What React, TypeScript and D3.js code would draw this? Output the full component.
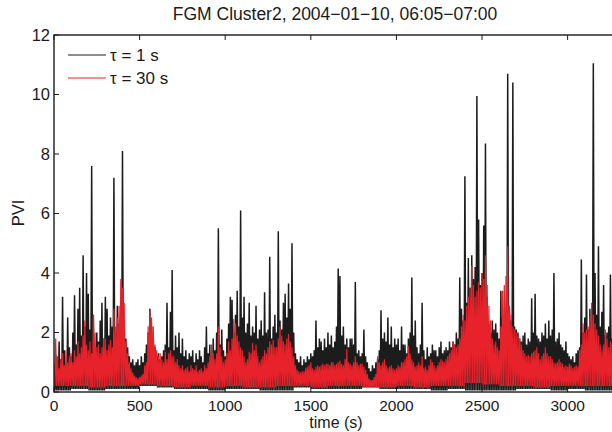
import React from "react";
import * as d3 from "d3";

const TITLE = "FGM Cluster2, 2004\u221201\u221210, 06:05\u221207:00";
const X_LABEL = "time (s)";
const Y_LABEL = "PVI";
const LEGEND = ["\u03c4 = 1 s", "\u03c4 = 30 s"];
const X_TICKS = [0, 500, 1000, 1500, 2000, 2500, 3000];
const Y_TICKS = [0, 2, 4, 6, 8, 10, 12];
const BIN_SECONDS = 10;
const LOW_SECONDS = 100;

// tau = 1 s : peak value in each 10 s bin (t = 0, 10, ..., 3290)
const blackPeak = [
  0.9, 1.25, 0.8, 1.7, 1.1, 3.2, 1.4, 1.0, 2.5, 1.5,
  1.2, 2.0, 3.25, 1.6, 2.8, 3.5, 1.9, 4.6, 2.2, 4.0,
  3.3, 2.1, 7.6, 2.6, 1.5, 2.0, 1.7, 2.4, 3.0, 1.8,
  3.2, 2.8, 1.9, 2.5, 2.2, 7.2, 2.0, 2.9, 2.3, 2.6,
  8.1, 2.4, 1.8, 1.5, 1.2, 1.0, 1.1, 0.9, 1.0, 1.1,
  0.9, 1.2, 1.0, 1.3, 1.6, 2.0, 2.8, 2.2, 1.8, 1.5,
  1.2, 1.3, 1.1, 1.2, 1.4, 1.6, 3.0, 1.5, 2.7, 4.1,
  1.4, 1.9, 1.5, 2.0, 1.3, 1.8, 1.2, 1.4, 1.1, 1.3,
  1.2, 1.4, 1.0, 1.3, 1.1, 1.4, 1.2, 1.0, 1.5, 2.2,
  1.3, 1.6, 1.2, 1.8, 1.4, 2.0, 5.5, 1.6, 2.1, 1.4,
  1.2, 1.8, 2.3, 3.2, 3.1, 2.0, 2.6, 3.4, 2.2, 6.1,
  2.5, 3.2, 2.0, 2.3, 3.0, 1.9, 2.2, 2.0, 2.9, 1.8,
  2.1, 2.4, 1.9, 3.35, 2.0, 2.1, 4.55, 1.8, 2.2, 2.6,
  2.0, 5.4, 2.4, 2.1, 3.0, 3.3, 2.5, 3.65, 2.8, 5.0,
  2.0, 1.3, 1.1, 1.0, 1.2, 0.9, 1.1, 1.0, 1.2, 1.1,
  1.3, 1.2, 1.4, 2.4, 1.5, 1.8, 1.7, 1.4, 1.8, 1.5,
  2.0, 1.6, 1.9, 1.5, 1.7, 2.2, 4.15, 3.9, 1.9, 2.2,
  1.6, 1.8, 1.5, 1.8, 1.8, 1.6, 3.7, 1.3, 1.4, 1.2,
  1.3, 2.1, 1.2, 1.0, 0.8, 0.7, 0.9, 0.8, 1.0, 1.1,
  1.4, 2.75, 1.8, 2.0, 1.7, 2.5, 1.6, 2.2, 1.5, 1.8,
  1.6, 1.8, 1.4, 2.2, 1.6, 1.6, 1.3, 1.8, 2.0, 3.85,
  1.9, 2.4, 1.5, 1.3, 1.6, 3.0, 1.4, 1.1, 1.5, 1.2,
  1.3, 1.6, 1.4, 1.4, 1.2, 1.5, 1.7, 1.3, 1.4, 1.5,
  1.4, 1.7, 1.5, 1.7, 1.6, 2.0, 1.8, 3.85, 2.8, 2.4,
  7.25, 3.0, 4.5, 3.5, 4.6, 3.8, 4.2, 9.95, 5.8, 3.6,
  4.0, 5.6, 8.35, 3.2, 2.3, 2.0, 2.4, 2.1, 2.3, 2.0,
  1.8, 3.4, 2.5, 2.2, 2.6, 10.7, 2.8, 2.4, 10.4, 2.2,
  2.1, 2.0, 1.8, 1.7, 1.9, 2.0, 1.6, 1.8, 1.7, 3.15,
  2.0, 3.3, 1.9, 1.8, 1.7, 2.0, 1.9, 2.3, 1.8, 2.4,
  1.9, 2.1, 4.0, 1.7, 1.8, 2.0, 1.6, 1.5, 1.4, 1.7,
  1.3, 1.2, 1.1, 1.2, 1.0, 1.3, 1.4, 1.5, 4.45, 2.0,
  2.5, 3.95, 2.1, 2.8, 2.4, 11.05, 4.0, 2.6, 4.9, 2.2,
  2.7, 3.6, 1.9, 2.0, 2.2, 3.95, 1.8, 1.5, 1.6, 1.4,
];

// tau = 1 s : trough level in each 100 s block
const blackLow = [
  0.05, 0.1, 0.05, 0.1, 0.1, 0.2, 0.15, 0.1, 0.1, 0.05, 0.1,
  0.1, 0.05, 0.05, 0.15, 0.1, 0.1, 0.1, 0.15, 0.1, 0.1, 0.1,
  0.05, 0.1, 0.05, 0.05, 0.05, 0.1, 0.1, 0.05, 0.1, 0.05, 0.05,
];

// tau = 30 s : peak value in each 10 s bin
const redPeak = [
  0.9, 1.8, 1.2, 0.8, 1.1, 1.3, 0.9, 1.4, 1.0, 1.2,
  1.3, 1.0, 1.4, 1.2, 1.7, 1.3, 1.5, 1.9, 2.4, 1.6,
  1.4, 1.7, 1.3, 2.6, 2.0, 1.5, 1.6, 1.3, 1.5, 1.8,
  1.8, 1.4, 1.6, 1.75, 1.5, 2.8, 2.2, 2.5, 2.9, 3.8,
  3.5, 3.0, 1.7, 1.3, 1.0, 0.8, 0.65, 0.55, 0.5, 0.45,
  0.5, 0.55, 0.6, 0.9, 1.0, 2.2, 2.75, 2.5, 2.2, 1.6,
  1.4, 1.2, 1.3, 1.1, 1.0, 1.35, 1.1, 1.3, 1.4, 1.2,
  1.2, 1.0, 1.1, 0.9, 0.8, 0.9, 0.75, 0.8, 0.85, 0.7,
  0.9, 0.8, 0.75, 0.9, 0.7, 0.75, 0.8, 0.7, 0.9, 0.8,
  1.0, 1.2, 1.6, 1.3, 1.1, 1.3, 2.2, 1.5, 1.2, 1.0,
  1.1, 1.3, 1.7, 1.4, 1.8, 2.45, 2.3, 1.9, 1.7, 1.5,
  1.4, 1.2, 1.0, 1.1, 1.35, 1.3, 1.65, 1.4, 1.6, 1.2,
  1.0, 1.1, 1.2, 1.4, 1.3, 1.5, 1.7, 1.6, 1.75, 1.5,
  1.5, 1.8, 2.2, 1.9, 1.7, 1.6, 1.8, 1.95, 1.7, 1.5,
  1.2, 0.9, 0.75, 0.7, 0.65, 0.7, 0.7, 0.8, 0.85, 0.9,
  1.0, 0.8, 0.75, 0.85, 0.9, 0.85, 0.9, 0.95, 0.9, 0.95,
  0.95, 0.9, 1.0, 1.0, 0.9, 0.95, 1.0, 1.05, 0.95, 0.9,
  1.1, 1.45, 1.0, 0.95, 0.9, 1.0, 1.2, 1.0, 0.9, 0.95,
  0.95, 0.85, 0.75, 0.6, 0.45, 0.4, 0.4, 0.5, 0.6, 1.2,
  1.0, 0.9, 1.0, 1.1, 0.9, 0.8, 0.85, 0.9, 0.8, 0.75,
  0.8, 0.9, 0.85, 1.0, 1.0, 1.1, 1.2, 1.55, 1.3, 1.1,
  1.0, 0.85, 0.9, 1.0, 0.9, 1.2, 0.8, 0.85, 0.75, 0.9,
  1.1, 1.0, 0.9, 0.8, 0.9, 1.0, 1.1, 1.05, 1.0, 1.1,
  1.2, 1.3, 1.4, 1.7, 1.6, 1.5, 1.6, 1.8, 2.2, 2.6,
  2.4, 2.9, 3.2, 3.5, 4.25, 3.6, 3.2, 3.4, 3.7, 3.5,
  4.0, 3.8, 4.6, 3.6, 2.9, 2.4, 1.8, 1.6, 1.7, 1.5,
  1.4, 2.2, 3.4, 3.6, 3.9, 4.9, 2.9, 2.6, 2.2, 2.1,
  2.0, 1.9, 1.8, 1.6, 1.4, 1.3, 1.2, 1.25, 1.2, 1.3,
  1.35, 1.4, 1.5, 1.3, 1.1, 1.2, 1.3, 1.5, 1.3, 1.2,
  1.2, 1.1, 1.0, 0.95, 1.0, 1.1, 1.0, 0.95, 0.85, 0.9,
  0.85, 0.95, 0.9, 0.8, 0.85, 0.9, 0.85, 1.4, 1.6, 2.3,
  2.0, 2.1, 2.2, 2.55, 3.0, 2.6, 2.3, 2.1, 1.9, 1.6,
  1.4, 1.6, 2.1, 1.8, 1.5, 1.7, 1.6, 1.4, 1.3, 1.2,
];

// tau = 30 s : trough level in each 100 s block
const redLow = [
  0.2, 0.2, 0.15, 0.2, 0.2, 0.25, 0.2, 0.15, 0.2, 0.15, 0.2,
  0.15, 0.15, 0.2, 0.2, 0.15, 0.2, 0.2, 0.15, 0.15, 0.2, 0.15,
  0.2, 0.2, 0.3, 0.25, 0.2, 0.2, 0.15, 0.2, 0.2, 0.2, 0.2,
];

const W = 612;
const H = 432;
const M = { left: 54, right: 619, top: 35, bottom: 392 };
const FONT = "'Liberation Sans', Arial, Helvetica, sans-serif";
const INK = "#1a1a1a";

function toPoints(peak: number[], low: number[]): [number, number][] {
  const pts: [number, number][] = [];
  peak.forEach((v, i) => {
    const t = i * BIN_SECONDS;
    pts.push([t, v]);
    pts.push([t + BIN_SECONDS / 2, low[Math.floor(t / LOW_SECONDS)]]);
  });
  return pts;
}

export default function App() {
  const x = d3.scaleLinear().domain([0, 3300]).range([M.left, M.right]);
  const y = d3.scaleLinear().domain([0, 12]).range([M.bottom, M.top]);
  const line = d3
    .line<[number, number]>()
    .x((d) => x(d[0]))
    .y((d) => y(d[1]));
  const blackPath = line(toPoints(blackPeak, blackLow)) || "";
  const redPath = line(toPoints(redPeak, redLow)) || "";
  const tickLen = 5;

  return (
    <svg
      width={W}
      height={H}
      style={{ position: "absolute", left: 0, top: 0, background: "#fff" }}
      fontFamily={FONT}
    >
      <defs>
        <clipPath id="plotclip">
          <rect x={M.left} y={M.top} width={M.right - M.left} height={M.bottom - M.top} />
        </clipPath>
      </defs>
      <rect x={0} y={0} width={W} height={H} fill="#fff" />
      <g clipPath="url(#plotclip)">
        <path d={blackPath} fill="none" stroke="#1c1c1c" strokeWidth={1.5} strokeLinejoin="miter" />
        <path d={redPath} fill="none" stroke="#e8222a" strokeWidth={1.2} strokeLinejoin="miter" />
      </g>
      <rect
        x={M.left}
        y={M.top}
        width={M.right - M.left}
        height={M.bottom - M.top}
        fill="none"
        stroke={INK}
        strokeWidth={1.4}
      />
      {X_TICKS.map((t) => (
        <g key={"xt" + t}>
          <line x1={x(t)} x2={x(t)} y1={M.bottom} y2={M.bottom - tickLen} stroke={INK} strokeWidth={1} />
          <line x1={x(t)} x2={x(t)} y1={M.top} y2={M.top + tickLen} stroke={INK} strokeWidth={1} />
          <text x={x(t)} y={411} fontSize={15.5} textAnchor="middle" fill={INK}>
            {t}
          </text>
        </g>
      ))}
      {Y_TICKS.map((v) => (
        <g key={"yt" + v}>
          <line x1={M.left} x2={M.left + tickLen} y1={y(v)} y2={y(v)} stroke={INK} strokeWidth={1} />
          <text x={50} y={y(v)} dy="0.36em" fontSize={16.5} textAnchor="end" fill={INK}>
            {v}
          </text>
        </g>
      ))}
      <text x={335} y={20} fontSize={17.5} textAnchor="middle" fill={INK}>
        {TITLE}
      </text>
      <text x={336} y={428} fontSize={16} textAnchor="middle" fill={INK}>
        {X_LABEL}
      </text>
      <text
        transform={`translate(24,${213}) rotate(-90)`}
        fontSize={16.5}
        textAnchor="middle"
        fill={INK}
      >
        {Y_LABEL}
      </text>
      <line x1={68} x2={106} y1={55} y2={55} stroke="#1c1c1c" strokeWidth={1} />
      <text x={110} y={61} fontSize={17} fill={INK}>
        {LEGEND[0]}
      </text>
      <line x1={68} x2={106} y1={78} y2={78} stroke="#e8222a" strokeWidth={1} />
      <text x={110} y={84} fontSize={17} fill={INK}>
        {LEGEND[1]}
      </text>
    </svg>
  );
}
